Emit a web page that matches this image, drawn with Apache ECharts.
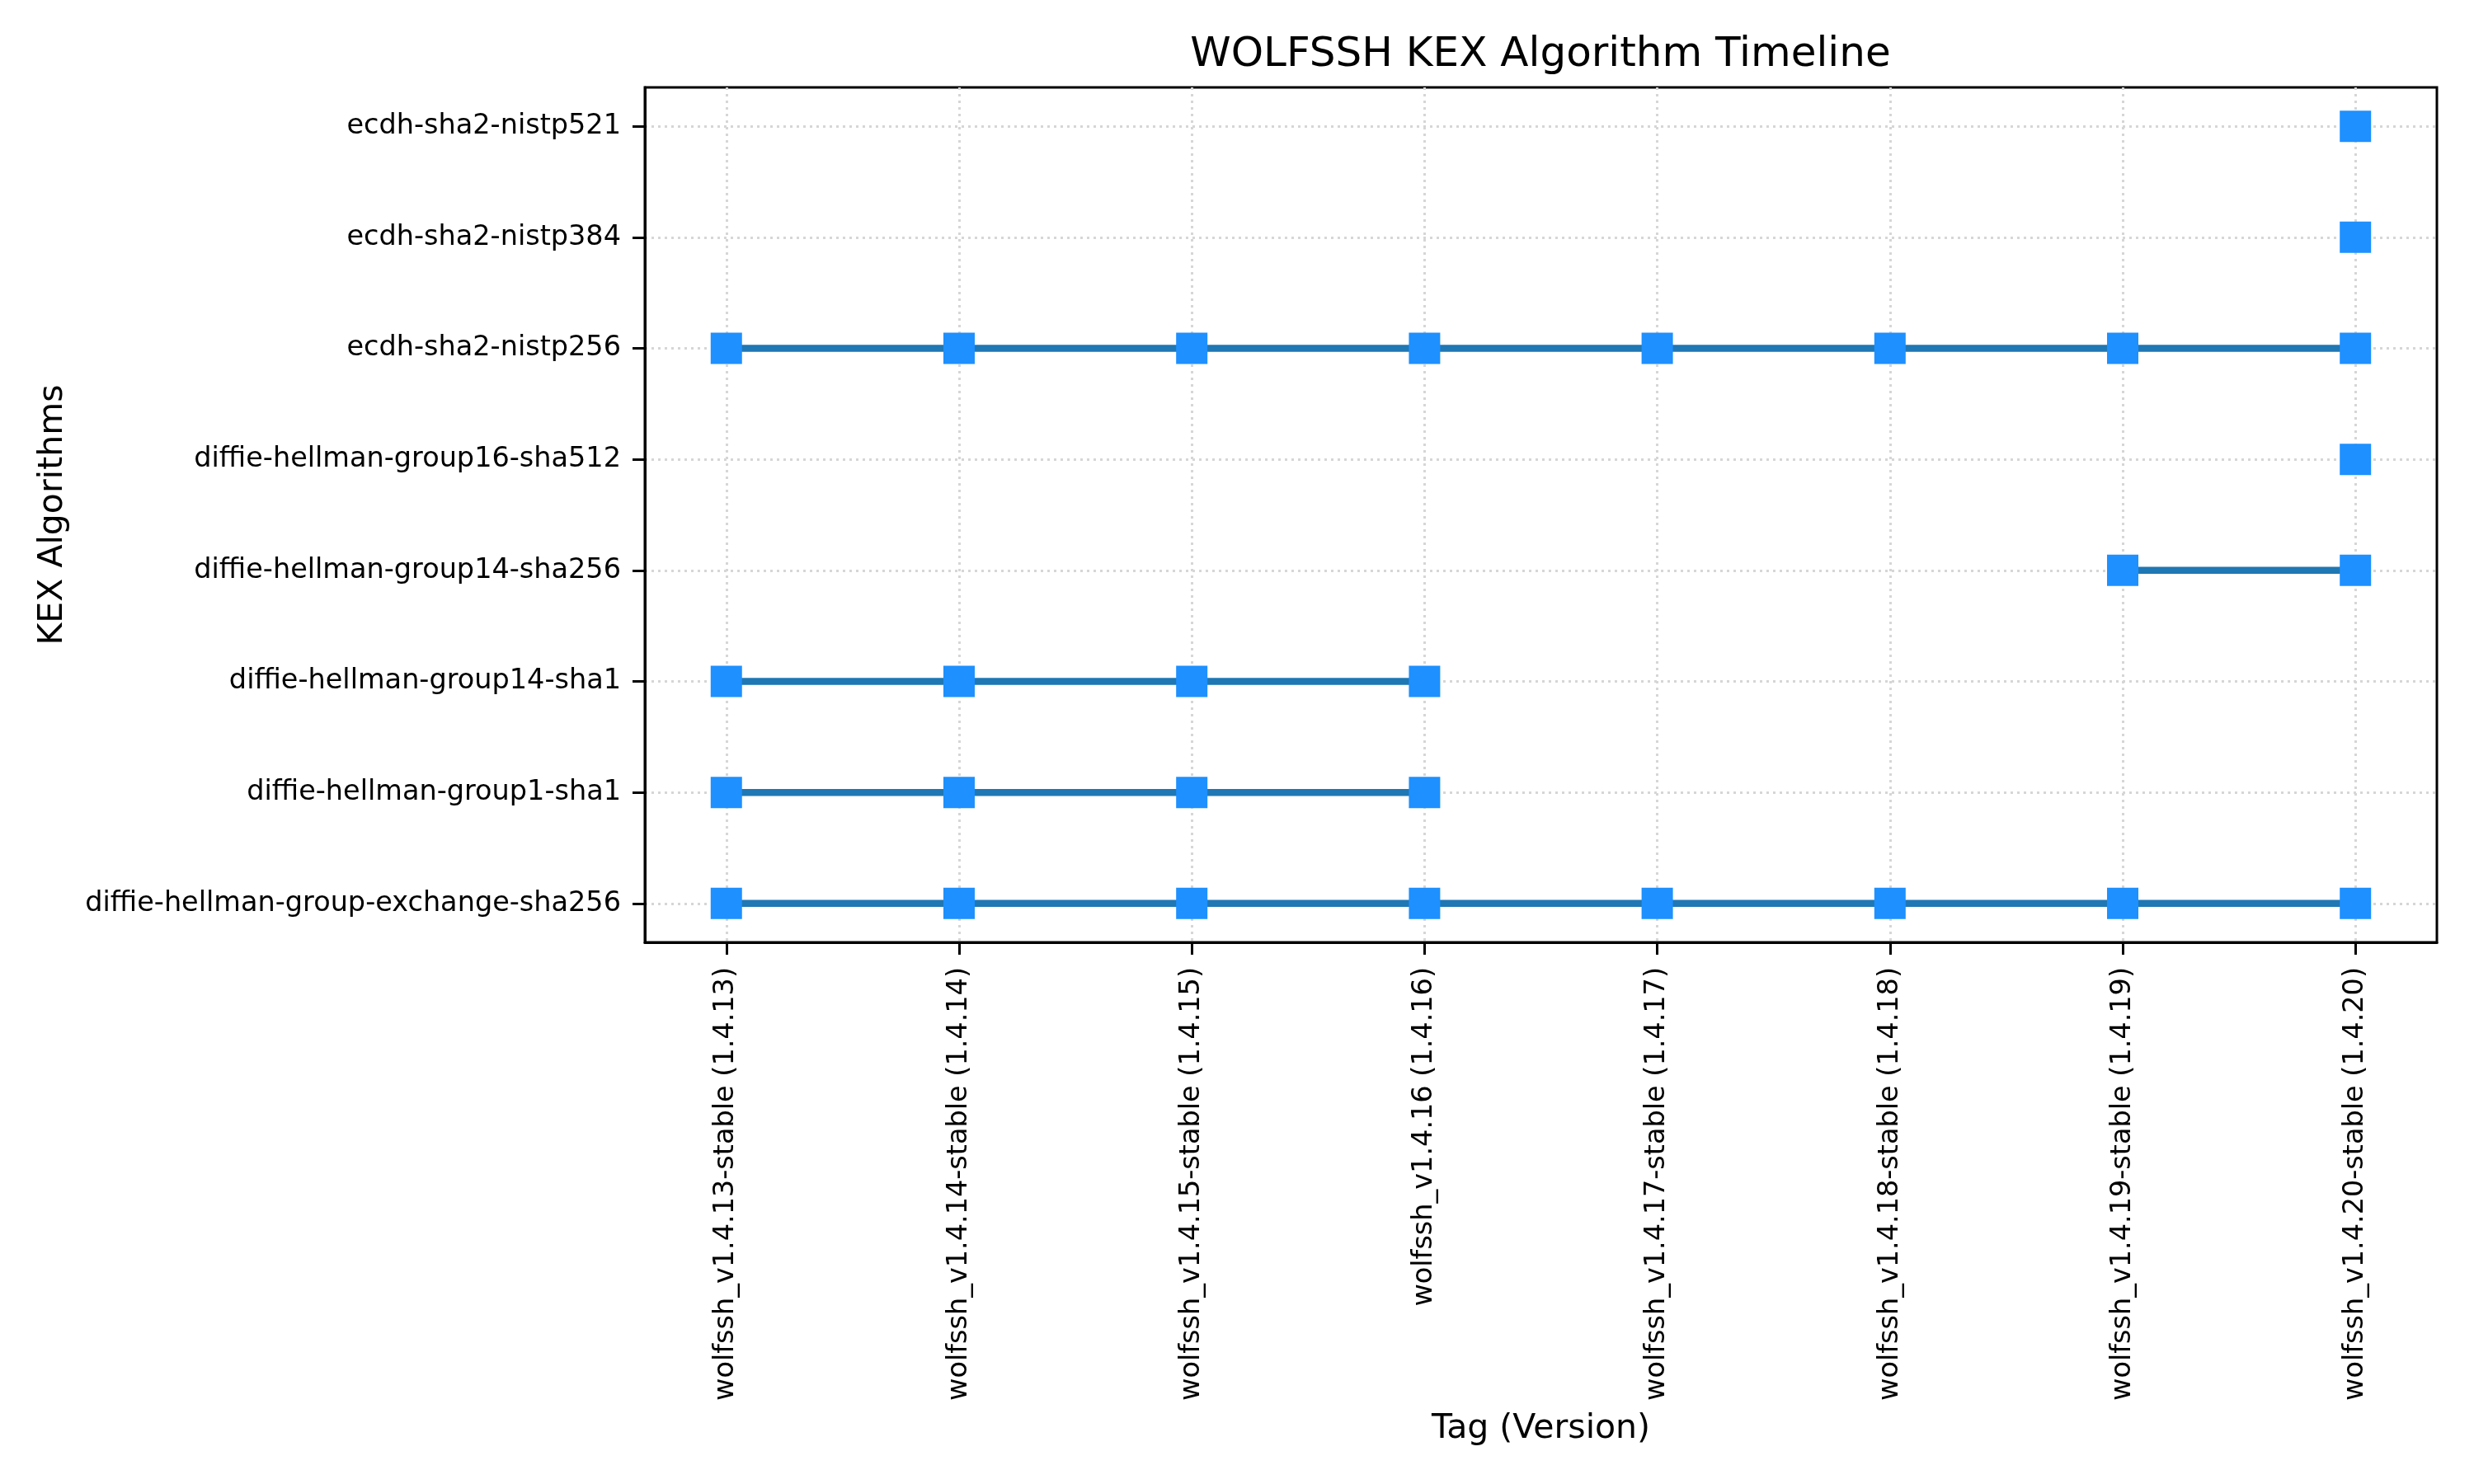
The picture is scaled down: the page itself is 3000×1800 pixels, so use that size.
<!DOCTYPE html>
<html>
<head>
<meta charset="utf-8">
<title>WOLFSSH KEX Algorithm Timeline</title>
<script src="https://cdn.jsdelivr.net/npm/echarts@6/dist/echarts.min.js"></script>
<style>
    html, body { margin: 0; padding: 0; background: #fff; }
    #chart { width: 3000px; height: 1800px; }
</style>
</head>
<body>
<div id="chart"></div>
<script>
// tag labels along x (index = position)
var tags = [
    'wolfssh_v1.4.13-stable (1.4.13)',
    'wolfssh_v1.4.14-stable (1.4.14)',
    'wolfssh_v1.4.15-stable (1.4.15)',
    'wolfssh_v1.4.16 (1.4.16)',
    'wolfssh_v1.4.17-stable (1.4.17)',
    'wolfssh_v1.4.18-stable (1.4.18)',
    'wolfssh_v1.4.19-stable (1.4.19)',
    'wolfssh_v1.4.20-stable (1.4.20)'
];

// algorithms along y, bottom to top
var algorithms = [
    'diffie-hellman-group-exchange-sha256',
    'diffie-hellman-group1-sha1',
    'diffie-hellman-group14-sha1',
    'diffie-hellman-group14-sha256',
    'diffie-hellman-group16-sha512',
    'ecdh-sha2-nistp256',
    'ecdh-sha2-nistp384',
    'ecdh-sha2-nistp521'
];

// tag indexes where each algorithm is present
var groupExchangeSha256 = [0, 1, 2, 3, 4, 5, 6, 7];
var group1Sha1 = [0, 1, 2, 3];
var group14Sha1 = [0, 1, 2, 3];
var group14Sha256 = [6, 7];
var group16Sha512 = [7];
var nistp256 = [0, 1, 2, 3, 4, 5, 6, 7];
var nistp384 = [7];
var nistp521 = [7];

var presence = [groupExchangeSha256, group1Sha1, group14Sha1, group14Sha256,
    group16Sha512, nistp256, nistp384, nistp521];

var FONT = 'DejaVu Sans';
var tickIdx = tags.map(function (t, i) { return i; });
var rowIdx = algorithms.map(function (a, i) { return i; });

var series = [];
for (var i = 0; i < algorithms.length; i++) {
    series.push({
        name: algorithms[i],
        type: 'line',
        data: presence[i].map(function (x) { return [x, i]; }),
        symbol: 'rect',
        symbolSize: 38,
        itemStyle: { color: '#1e90ff' },
        lineStyle: { color: '#1f77b4', width: 8.5 },
        emphasis: { disabled: true },
        animation: false,
        z: 3
    });
}

var gridLine = { show: true, lineStyle: { color: '#d6d6d6', width: 3, type: [3, 5] } };

var myChart = echarts.init(document.getElementById('chart'));
var option = {
    backgroundColor: '#fff',
    animation: false,
    title: {
        text: 'WOLFSSH KEX Algorithm Timeline',
        left: 1868,
        top: 42,
        padding: 0,
        textAlign: 'center',
        textStyle: { fontFamily: FONT, fontSize: 50, fontWeight: 'normal', color: '#000' }
    },
    grid: {
        left: 782,
        top: 106,
        width: 2173,
        height: 1037,
        show: true,
        borderColor: '#000',
        borderWidth: 3,
        backgroundColor: 'transparent'
    },
    xAxis: {
        type: 'value',
        min: -0.35,
        max: 7.35,
        name: 'Tag (Version)',
        nameLocation: 'middle',
        nameGap: 570,
        nameTextStyle: { fontFamily: FONT, fontSize: 41, color: '#000' },
        axisLine: { show: true, onZero: false, lineStyle: { color: '#000', width: 3 } },
        axisTick: { show: true, length: 15, customValues: tickIdx, lineStyle: { color: '#000', width: 3 } },
        axisLabel: {
            customValues: tickIdx,
            rotate: 90,
            margin: 30,
            fontFamily: FONT,
            fontSize: 33.5,
            color: '#000',
            formatter: function (v) { return tags[Math.round(v)]; }
        },
        splitLine: gridLine
    },
    yAxis: {
        type: 'value',
        min: -0.35,
        max: 7.35,
        name: 'KEX Algorithms',
        nameLocation: 'middle',
        nameRotate: 90,
        nameGap: 697,
        nameTextStyle: { fontFamily: FONT, fontSize: 41, color: '#000' },
        axisLine: { show: true, onZero: false, lineStyle: { color: '#000', width: 3 } },
        axisTick: { show: true, length: 15, customValues: rowIdx, lineStyle: { color: '#000', width: 3 } },
        axisLabel: {
            customValues: rowIdx,
            margin: 29,
            fontFamily: FONT,
            fontSize: 33.5,
            color: '#000',
            formatter: function (v) { return algorithms[Math.round(v)]; }
        },
        splitLine: gridLine
    },
    series: series
};
myChart.setOption(option);
</script>
</body>
</html>
